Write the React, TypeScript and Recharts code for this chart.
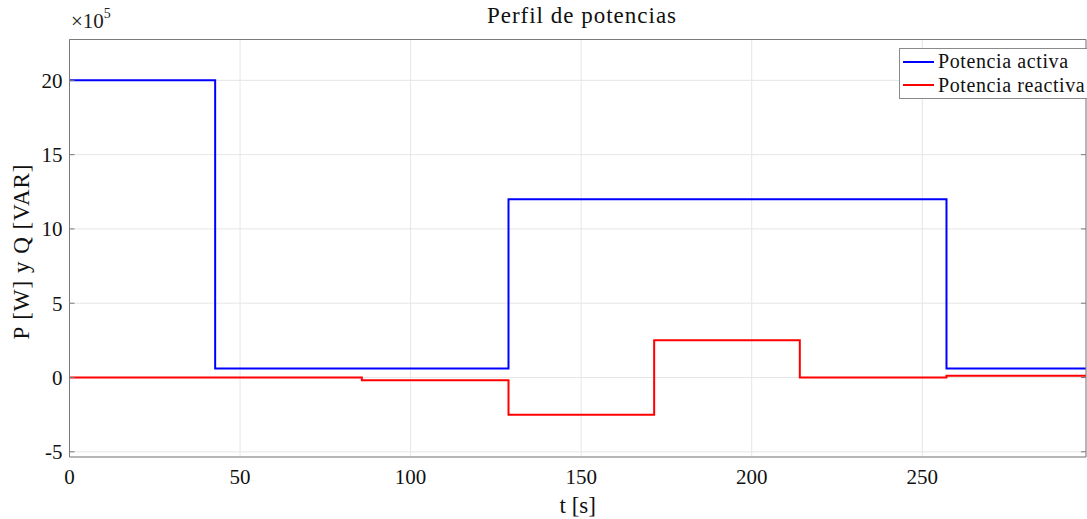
import { LineChart, Line, XAxis, YAxis, CartesianGrid, Legend } from 'recharts';

// Tiempos de cambio del perfil (s) y potencias en cada tramo
const tiempo = [0, 42.7, 85.7, 128.7, 171.4, 214.1, 257.1, 298];
const potenciaActiva = [20e5, 0.6e5, 0.6e5, 12e5, 12e5, 12e5, 0.6e5, 0.6e5];
const potenciaReactiva = [0, 0, -0.18e5, -2.5e5, 2.5e5, 0, 0.12e5, 0.12e5];

const xTicks = [0, 50, 100, 150, 200, 250];
const yTicks = [-5e5, 0, 5e5, 10e5, 15e5, 20e5];

const data = tiempo.map((t, i) => ({ t, P: potenciaActiva[i], Q: potenciaReactiva[i] }));

const FONT = '"Liberation Serif", "Times New Roman", serif';
const AXIS = '#7a7a7a';
const X_DOMAIN: [number, number] = [0, 298];
const Y_DOMAIN: [number, number] = [-5.35e5, 22.75e5];

const series = [
    { name: 'Potencia activa', color: '#0000ff' },
    { name: 'Potencia reactiva', color: '#ff0000' },
];

function LegendBox() {
    return (
        <div
            style={{
                border: '1px solid #8a8a8a',
                background: '#fff',
                padding: '1px 0 1px 3px',
                fontFamily: FONT,
                fontSize: 20,
                letterSpacing: 0.6,
                color: '#111',
                width: 200,
            }}
        >
            {series.map((s) => (
                <div key={s.name} style={{ display: 'flex', alignItems: 'center', height: 23.5 }}>
                    <span style={{ display: 'inline-block', width: 31, height: 2, background: s.color, marginRight: 4 }} />
                    <span>{s.name}</span>
                </div>
            ))}
        </div>
    );
}

function YLabel() {
    const cx = 29;
    const cy = 251.5;
    return (
        <text
            x={cx}
            y={cy}
            transform={`rotate(-90, ${cx}, ${cy})`}
            textAnchor="middle"
            fontFamily={FONT}
            fontSize={23}
            letterSpacing={1}
            fill="#111"
        >
            P [W] y Q [VAR]
        </text>
    );
}

export default function App() {
    return (
        <div style={{ position: 'absolute', left: 0, top: 0, width: 1087, height: 519, overflow: 'hidden', background: '#fff' }}>
            <div
                style={{
                    position: 'absolute',
                    left: 0,
                    width: 1164,
                    top: 3,
                    textAlign: 'center',
                    fontFamily: FONT,
                    fontSize: 23,
                    letterSpacing: 1,
                    color: '#111',
                }}
            >
                Perfil de potencias
            </div>
            <div style={{ position: 'absolute', left: 71, top: 8, fontFamily: FONT, fontSize: 21, color: '#222' }}>
                ×10<sup style={{ fontSize: 14, position: 'relative', top: -2 }}>5</sup>
            </div>
            <LineChart
                width={1087}
                height={519}
                data={data}
                margin={{ top: 39.5, right: 1, bottom: 0, left: 0 }}
                style={{ fontFamily: FONT }}
            >
                <CartesianGrid stroke="#e6e6e6" strokeWidth={1} />
                <XAxis
                    dataKey="t"
                    type="number"
                    domain={X_DOMAIN}
                    ticks={xTicks}
                    allowDataOverflow
                    height={62}
                    tickLine={false}
                    tickSize={0}
                    tickMargin={12}
                    axisLine={{ stroke: AXIS }}
                    tick={{ fill: '#111', fontSize: 21, fontFamily: FONT }}
                    label={{ value: 't [s]', position: 'insideBottom', offset: 6, fill: '#111', fontSize: 23, fontFamily: FONT }}
                />
                <YAxis
                    type="number"
                    domain={Y_DOMAIN}
                    ticks={yTicks}
                    allowDataOverflow
                    width={69.5}
                    tickLine={false}
                    tickSize={0}
                    tickMargin={7}
                    axisLine={{ stroke: AXIS }}
                    tick={{ fill: '#111', fontSize: 21, fontFamily: FONT }}
                    tickFormatter={(v: number) => String(Math.round(v / 1e5))}
                    label={<YLabel />}
                />
                {/* marcas interiores y cierre de la caja */}
                <XAxis xAxisId="bm" orientation="bottom" mirror type="number" domain={X_DOMAIN} ticks={xTicks} allowDataOverflow height={1} tickSize={5} tickLine={{ stroke: AXIS }} axisLine={false} tickFormatter={() => ''} />
                <XAxis xAxisId="top" orientation="top" mirror type="number" domain={X_DOMAIN} ticks={xTicks} allowDataOverflow height={1} tickSize={5} tickLine={{ stroke: AXIS }} axisLine={{ stroke: AXIS }} tickFormatter={() => ''} />
                <YAxis yAxisId="lm" orientation="left" mirror type="number" domain={Y_DOMAIN} ticks={yTicks} allowDataOverflow width={1} tickSize={5} tickLine={{ stroke: AXIS }} axisLine={false} tickFormatter={() => ''} />
                <YAxis yAxisId="right" orientation="right" mirror type="number" domain={Y_DOMAIN} ticks={yTicks} allowDataOverflow width={1} tickSize={5} tickLine={{ stroke: AXIS }} axisLine={{ stroke: AXIS }} tickFormatter={() => ''} />
                <Line type="stepAfter" dataKey="P" name="Potencia activa" stroke="#0000ff" strokeWidth={2} dot={false} isAnimationActive={false} />
                <Line type="stepAfter" dataKey="Q" name="Potencia reactiva" stroke="#ff0000" strokeWidth={2} dot={false} isAnimationActive={false} />
                <Legend
                    layout="vertical"
                    align="center"
                    verticalAlign="middle"
                    content={<LegendBox />}
                    wrapperStyle={{ position: 'absolute', left: 899, top: 48, width: 200 }}
                />
            </LineChart>
        </div>
    );
}
